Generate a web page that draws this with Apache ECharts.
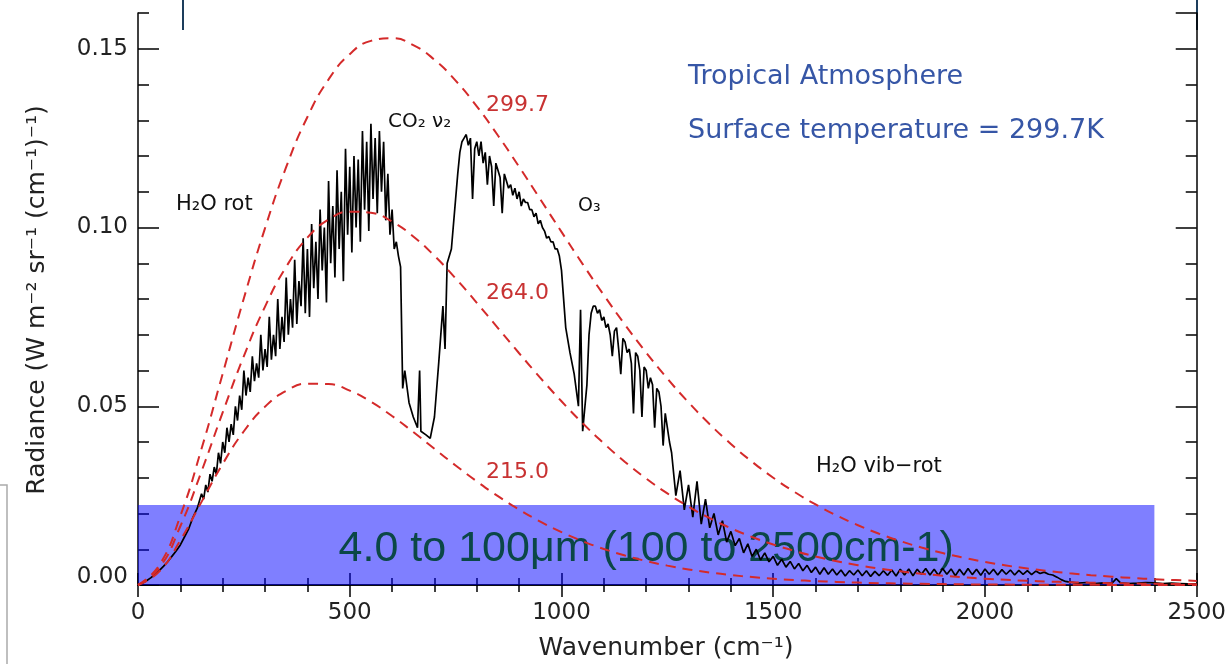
<!DOCTYPE html>
<html><head><meta charset="utf-8">
<script src="https://cdn.jsdelivr.net/npm/echarts@6/dist/echarts.min.js"></script>
<style>html,body{margin:0;padding:0;background:#fff}#c{width:1229px;height:664px}</style>
</head><body><div id="c"></div>
<script>
// ---- data ----
const planckWavenumbers = [0,50,100,150,200,250,300,350,400,450,500,550,600,650,700,750,800,850,900,950,1000,1050,1100,1150,1200,1250,1300,1350,1400,1450,1500,1550,1600,1650,1700,1750,1800,1850,1900,1950,2000,2050,2100,2150,2200,2250,2300,2350,2400,2450,2500];
const planck2997 = [0,0.00549,0.01933,0.03811,0.05911,0.08019,0.09982,0.11693,0.13090,0.14142,0.14848,0.15220,0.15293,0.15103,0.14693,0.14107,0.13388,0.12573,0.11698,0.10790,0.09877,0.08977,0.08108,0.07280,0.06501,0.05775,0.05108,0.04497,0.03944,0.03446,0.03001,0.02604,0.02253,0.01943,0.01672,0.01434,0.01228,0.01048,0.00893,0.00760,0.00645,0.00546,0.00462,0.00390,0.00329,0.00276,0.00232,0.00195,0.00163,0.00137,0.00114];
const planck2640 = [0,0.00475,0.01644,0.03178,0.04827,0.06404,0.07788,0.08902,0.09715,0.10222,0.10443,0.10410,0.10165,0.09749,0.09207,0.08577,0.07894,0.07188,0.06483,0.05795,0.05140,0.04526,0.03960,0.03443,0.02978,0.02562,0.02194,0.01870,0.01588,0.01344,0.01133,0.00952,0.00797,0.00666,0.00554,0.00460,0.00382,0.00315,0.00260,0.00214,0.00176,0.00144,0.00118,0.00097,0.00079,0.00064,0.00052,0.00042,0.00034,0.00028,0.00023];
const planck2150 = [0,0.00375,0.01250,0.02325,0.03387,0.04300,0.04989,0.05430,0.05630,0.05619,0.05436,0.05125,0.04726,0.04278,0.03810,0.03344,0.02899,0.02485,0.02109,0.01774,0.01480,0.01225,0.01008,0.00824,0.00670,0.00542,0.00436,0.00350,0.00279,0.00222,0.00176,0.00139,0.00109,0.00086,0.00067,0.00052,0.00041,0.00032,0.00025,0.00019,0.00015,0.00011,0.00009,0.00007,0.00005,0.00004,0.00003,0.00002,0.00002,0.00001,0.00001];
const planckLabels = ['299.7','264.0','215.0'];

const observed = [[0,0],[10,0.0005],[20,0.0012],[30,0.002],[40,0.003],[50,0.004],[60,0.0052],[70,0.0065],[80,0.008],[90,0.0095],[100,0.0112],[110,0.0135],[120,0.0158],[130,0.019],[140,0.0215],
[150,0.0255],[155,0.024],[160,0.028],[165,0.026],[170,0.031],[175,0.029],[180,0.033],[185,0.031],[190,0.037],[195,0.034],[200,0.040],[205,0.037],[210,0.044],[215,0.040],[220,0.045],[225,0.042],[230,0.050],[235,0.046],[240,0.053],[245,0.049],[250,0.060],[255,0.053],[260,0.058],[265,0.054],[270,0.064],[275,0.057],[280,0.062],[285,0.058],[290,0.070],[295,0.060],[300,0.066],[305,0.061],[310,0.075],[315,0.063],[320,0.070],[325,0.064],[330,0.080],[335,0.066],[340,0.075],[345,0.068],[350,0.086],[355,0.070],[360,0.080],[365,0.072],[370,0.091],[375,0.073],[380,0.085],[385,0.078],[390,0.097],[395,0.076],[400,0.094],[405,0.075],[410,0.101],[415,0.083],[420,0.096],[425,0.080],[430,0.105],[435,0.088],[440,0.100],[445,0.079],[450,0.113],[455,0.090],[460,0.106],[465,0.086],[470,0.116],[475,0.094],[480,0.110],[485,0.085],[490,0.122],[495,0.098],[500,0.117],[505,0.093],[510,0.120],[515,0.100],[520,0.119],[525,0.096],[530,0.127],[535,0.105],[540,0.124],[545,0.099],[550,0.129],[555,0.108],[560,0.125],[565,0.104],[570,0.127],[575,0.110],[580,0.124],[585,0.102],[590,0.115],[595,0.098],[600,0.105],[605,0.094],[610,0.096],[615,0.092],[620,0.089],
[625,0.055],[630,0.06],[640,0.051],[650,0.047],[660,0.044],[665,0.06],[668,0.043],[680,0.042],[690,0.041],[700,0.047],[710,0.062],[720,0.078],[725,0.066],[730,0.09],[740,0.094],
[750,0.108],[755,0.115],[760,0.121],[765,0.124],[770,0.125],[775,0.126],[780,0.123],[785,0.125],[790,0.108],[795,0.122],[800,0.124],[805,0.120],[810,0.124],[815,0.118],[820,0.121],[825,0.112],[830,0.120],[835,0.117],[840,0.106],[845,0.118],[850,0.116],[855,0.114],[860,0.104],[865,0.115],[870,0.113],[875,0.111],[880,0.112],[885,0.109],[890,0.111],[895,0.108],[900,0.110],[905,0.106],[910,0.108],[915,0.107],[920,0.107],[925,0.105],[930,0.105],[935,0.103],[940,0.104],[945,0.101],[950,0.102],[955,0.100],[960,0.099],[965,0.097],[970,0.0975],[975,0.096],[980,0.096],[985,0.094],[990,0.094],[995,0.092],[1000,0.088],
[1010,0.072],[1020,0.065],[1030,0.059],[1040,0.05],[1045,0.077],[1050,0.043],
[1060,0.056],[1065,0.070],[1070,0.076],[1075,0.078],[1080,0.078],[1085,0.076],[1090,0.077],[1095,0.074],[1100,0.075],[1105,0.072],[1110,0.073],[1115,0.070],[1120,0.064],[1125,0.071],[1130,0.072],[1135,0.066],[1140,0.059],[1145,0.069],[1150,0.068],[1155,0.065],[1160,0.066],[1165,0.062],[1170,0.048],[1175,0.065],[1180,0.064],[1185,0.060],[1190,0.047],[1195,0.061],[1200,0.060],[1205,0.055],[1210,0.058],[1215,0.056],[1220,0.044],[1225,0.055],[1230,0.054],[1235,0.050],[1240,0.039],[1245,0.048],[1250,0.044],[1255,0.040],[1260,0.037],
[1270,0.025],[1280,0.032],[1290,0.021],[1300,0.028],[1310,0.019],[1320,0.029],[1330,0.017],[1340,0.024],[1350,0.016],[1360,0.02],[1370,0.014],[1380,0.018],[1390,0.012],[1400,0.015],[1410,0.011],[1420,0.013],[1430,0.009],[1440,0.0115],[1450,0.008],[1460,0.01],[1470,0.007],[1480,0.009],[1490,0.0065],[1500,0.008],[1510,0.0055],[1520,0.0072],[1530,0.005],[1540,0.0066],[1550,0.0045],[1560,0.006],[1570,0.004],[1580,0.0055],[1590,0.0035],[1600,0.005],[1610,0.003],[1620,0.0048],[1630,0.003],[1640,0.0045],[1650,0.0028],[1660,0.0042],[1670,0.0025],[1680,0.004],[1690,0.0028],[1700,0.0042],[1710,0.0026],[1720,0.004],[1730,0.0024],[1740,0.0038],[1750,0.0026],[1760,0.004],[1770,0.0027],[1780,0.0042],[1790,0.0025],[1800,0.0044],[1810,0.0028],[1820,0.0045],[1830,0.0026],[1840,0.0044],[1850,0.003],[1860,0.0046],[1870,0.0028],[1880,0.0044],[1890,0.0027],[1900,0.0046],[1910,0.003],[1920,0.0045],[1930,0.0026],[1940,0.0044],[1950,0.0028],[1960,0.0046],[1970,0.0029],[1980,0.0044],[1990,0.0027],[2000,0.0045],[2010,0.003],[2020,0.0044],[2030,0.0028],[2040,0.0043],[2050,0.003],[2060,0.0042],[2070,0.0028],[2080,0.0041],[2090,0.003],[2100,0.004],[2110,0.0029],[2120,0.0039],[2130,0.0032],[2140,0.0036],[2150,0.003],[2160,0.0028],[2170,0.0022],[2180,0.0015],[2190,0.001],[2200,0.0008],[2220,0.0005],[2240,0.0007],[2260,0.0004],[2280,0.0006],[2300,0.0005],[2310,0.0018],[2320,0.0006],[2340,0.0004],[2360,0.0005],[2380,0.0007],[2400,0.0006],[2420,0.0004],[2440,0.0005],[2460,0.0004],[2480,0.0003],[2500,0.0003]];

const bandRange = [0, 2400];
const bandTop = 0.0224;
const bandText = '4.0 to 100μm (100 to 2500cm-1)';

// ---- chart ----
const FONT = 'DejaVu Sans';
const chart = echarts.init(document.getElementById('c'), null, {renderer:'canvas'});
const zip = (xs, ys) => xs.map((x, i) => [x, ys[i]]);
const black = {color:'#000', width:1.5};
const redDash = {color:'#d42a2a', width:2, type:[10,7]};

function planckSeries(vals){
  return {type:'line', data: zip(planckWavenumbers, vals), smooth:true, showSymbol:false,
          lineStyle: redDash, z:4, silent:true, animation:false};
}

const labelStyle = {fontFamily: FONT, fontSize: 23, color:'#222'};

chart.setOption({
  animation:false,
  grid:{left:138, right:32, top:13, bottom:79},
  xAxis:[
    {type:'value', min:0, max:2500, interval:500, position:'bottom',
     axisLine:{lineStyle:black}, splitLine:{show:false},
     axisTick:{inside:true, length:12, lineStyle:black},
     minorTick:{show:true, splitNumber:5, length:7, lineStyle:black},
     axisLabel:Object.assign({margin:17, formatter: v => String(v)}, labelStyle)},
    {type:'value', min:0, max:2500, interval:500, position:'top',
     axisLine:{lineStyle:black}, splitLine:{show:false},
     axisTick:{inside:true, length:12, lineStyle:black},
     minorTick:{show:true, splitNumber:5, length:7, lineStyle:black},
     axisLabel:{show:false}}
  ],
  yAxis:[
    {type:'value', min:0, max:0.16, interval:0.05, position:'left',
     axisLine:{lineStyle:black}, splitLine:{show:false},
     axisTick:{inside:true, length:21, lineStyle:black},
     axisLabel:Object.assign({margin:10, showMaxLabel:false,
       formatter: v => (v === 0 ? '{z|0.00}' : (v > 0.155 ? '' : v.toFixed(2))),
       rich:{z:Object.assign({padding:[0,0,15,0]}, labelStyle)}}, labelStyle)},
    {type:'value', min:0, max:0.16, interval:0.01, position:'left',
     axisLine:{show:false}, splitLine:{show:false},
     axisTick:{inside:true, length:11, lineStyle:black}, axisLabel:{show:false}},
    {type:'value', min:0, max:0.16, interval:0.05, position:'right',
     axisLine:{lineStyle:black}, splitLine:{show:false},
     axisTick:{inside:true, length:21, lineStyle:black}, axisLabel:{show:false}},
    {type:'value', min:0, max:0.16, interval:0.01, position:'right',
     axisLine:{show:false}, splitLine:{show:false},
     axisTick:{inside:true, length:11, lineStyle:black}, axisLabel:{show:false}}
  ],
  series:[
    {type:'line', data: observed, showSymbol:false, lineStyle:{color:'#000', width:1.7}, z:3, silent:true},
    planckSeries(planck2997),
    planckSeries(planck2640),
    planckSeries(planck2150),
    {type:'line', data:[], z:10, silent:true,
     markArea:{silent:true, itemStyle:{color:'rgba(0,0,255,0.5)'},
       label:{show:true, position:'inside', formatter: bandText, offset:[0,4],
              fontFamily:'Liberation Sans', fontSize:43, color:'#0b4747'},
       data:[[{xAxis:bandRange[0], yAxis:0}, {xAxis:bandRange[1], yAxis:bandTop}]]}}
  ],
  graphic:[
    {type:'line', shape:{x1:183,y1:0,x2:183,y2:30}, style:{stroke:'#1d3d5c', lineWidth:2}},
    {type:'line', shape:{x1:1197,y1:0,x2:1197,y2:30}, style:{stroke:'#1d3d5c', lineWidth:2}},
    {type:'polyline', shape:{points:[[0,485],[7,485],[7,664]]}, style:{stroke:'#aaa', lineWidth:1.5, fill:null}},
    {type:'text', left:688, top:63, style:{text:'Tropical Atmosphere', font:'27px "DejaVu Sans"', fill:'#3656a6'}},
    {type:'text', left:688, top:117, style:{text:'Surface temperature = 299.7K', font:'27px "DejaVu Sans"', fill:'#3656a6'}},
    {type:'text', left:486, top:94, style:{text:planckLabels[0], font:'22px "DejaVu Sans"', fill:'#c83232'}},
    {type:'text', left:486, top:282, style:{text:planckLabels[1], font:'22px "DejaVu Sans"', fill:'#c83232'}},
    {type:'text', left:486, top:461, style:{text:planckLabels[2], font:'22px "DejaVu Sans"', fill:'#c83232'}},
    {type:'text', left:388, top:112, style:{text:'CO₂ ν₂', font:'20px "DejaVu Sans"', fill:'#111'}},
    {type:'text', left:176, top:194, style:{text:'H₂O rot', font:'21px "DejaVu Sans"', fill:'#111'}},
    {type:'text', left:578, top:197, style:{text:'O₃', font:'19px "DejaVu Sans"', fill:'#111'}},
    {type:'text', left:816, top:456, style:{text:'H₂O vib−rot', font:'21px "DejaVu Sans"', fill:'#111'}},
    {type:'text', x:666, y:648, style:{text:'Wavenumber (cm⁻¹)', font:'25px "DejaVu Sans"', fill:'#222', align:'center', verticalAlign:'middle'}},
    {type:'text', x:37, y:300, rotation:Math.PI/2, style:{text:'Radiance (W m⁻² sr⁻¹ (cm⁻¹)⁻¹)', font:'25px "DejaVu Sans"', fill:'#222', align:'center', verticalAlign:'middle'}}
  ]
});
</script>
</body></html>
